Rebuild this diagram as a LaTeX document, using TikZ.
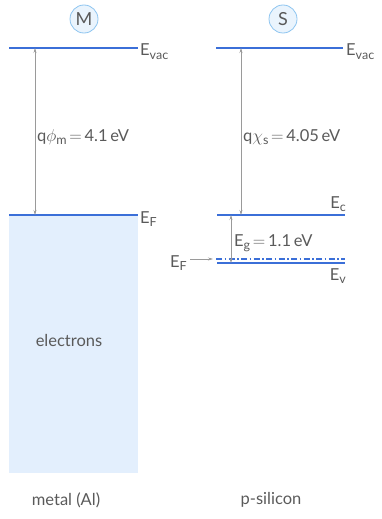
\documentclass[tikz,border=0pt]{standalone}
\usepackage{amsmath}
\usepackage{fontspec}
\setmainfont{Lato}
\usetikzlibrary{arrows.meta}
\definecolor{lvl}{HTML}{3B6FD8}
\definecolor{txt}{HTML}{5A5A5A}
\definecolor{arr}{HTML}{9A9A9A}
\definecolor{metalfill}{HTML}{E3EFFD}
\definecolor{circdraw}{HTML}{8EC5F0}
\definecolor{circfill}{HTML}{EAF4FD}
\newcommand\lsub[1]{\raisebox{-0.22em}{\fontsize{12.5}{13}\selectfont #1}}
\tikzset{
  level/.style={draw=lvl, line width=1.4pt},
  fermi/.style={draw=lvl, line width=1.4pt, dash pattern=on 6pt off 2.5pt on 1.5pt off 2.5pt},
  dimarrow/.style={draw=arr, line width=0.6pt, {Stealth[length=5pt,width=3pt]}-{Stealth[length=5pt,width=3pt]}},
  ptr/.style={draw=arr, line width=0.6pt, -{Stealth[length=5pt,width=3pt]}},
  lbl/.style={text=txt, inner sep=0pt},
  circ/.style={circle, draw=circdraw, fill=circfill, line width=0.8pt, minimum size=28pt, inner sep=0pt, text=txt, font=\fontsize{18}{20}\selectfont}
}
\begin{document}
\begin{tikzpicture}[x=1pt,y=-1pt, font=\fontsize{16.5}{19}\selectfont]
\useasboundingbox (0,0) rectangle (381,519);
% metal
\fill[metalfill] (9,215) rectangle (138,473);
\node[circ] (M) at (84,19) {M};
\node[circ] (S) at (283,19) {S};
\coordinate (mvacL) at (9,48);
\coordinate (mvacR) at (138,48);
\coordinate (mfL) at (9,215);
\coordinate (mfR) at (138,215);
\draw[level] (mvacL) -- (mvacR);
\draw[level] (mfL) -- (mfR);
\node[lbl, anchor=base west] (mEvac) at (140,56) {E\lsub{vac}};
\node[lbl, anchor=base west] (mEF) at (140,223) {E\lsub{F}};
\coordinate (phiT) at (35,48);
\coordinate (phiB) at (35,215);
\draw[dimarrow] (phiT) -- (phiB);
\node[lbl, anchor=base west] (phi) at (37,141) {q$\phi$\lsub{m}\,$=$\,4.1\,eV};
\node[lbl] (el) at (69,340) {electrons};
\node[lbl] (metal) at (66,500) {metal (Al)};
% semiconductor
\coordinate (svacL) at (216,48);
\coordinate (svacR) at (343,48);
\coordinate (ecL) at (217,215);
\coordinate (ecR) at (345,215);
\coordinate (efL) at (216,259);
\coordinate (efR) at (345,259);
\coordinate (evL) at (217,263);
\coordinate (evR) at (345,263);
\draw[level] (svacL) -- (svacR);
\draw[level] (ecL) -- (ecR);
\draw[fermi] (efL) -- (efR);
\draw[level] (evL) -- (evR);
\node[lbl, anchor=base west] (sEvac) at (346,56) {E\lsub{vac}};
\node[lbl, anchor=base east] (sEc) at (346,208) {E\lsub{c}};
\node[lbl, anchor=base east] (sEv) at (346,280) {E\lsub{v}};
\node[lbl, anchor=base west] (sEF) at (170,267) {E\lsub{F}};
\coordinate (chiT) at (241,48);
\coordinate (chiB) at (241,215);
\draw[dimarrow] (chiT) -- (chiB);
\node[lbl, anchor=base west] (chi) at (243,141) {q$\chi$\lsub{s}\,$=$\,4.05\,eV};
\coordinate (egT) at (231,215);
\coordinate (egB) at (231,263);
\draw[dimarrow] (egT) -- (egB);
\node[lbl, anchor=base west] (eg) at (234,246) {E\lsub{g}\,$=$\,1.1\,eV};
\draw[ptr] (sEF.east |- efL) ++(3,0) coordinate (efptrS) -- ([xshift=-3pt]efL);
\node[lbl] (si) at (271,500) {p-silicon};
\end{tikzpicture}
\end{document}
